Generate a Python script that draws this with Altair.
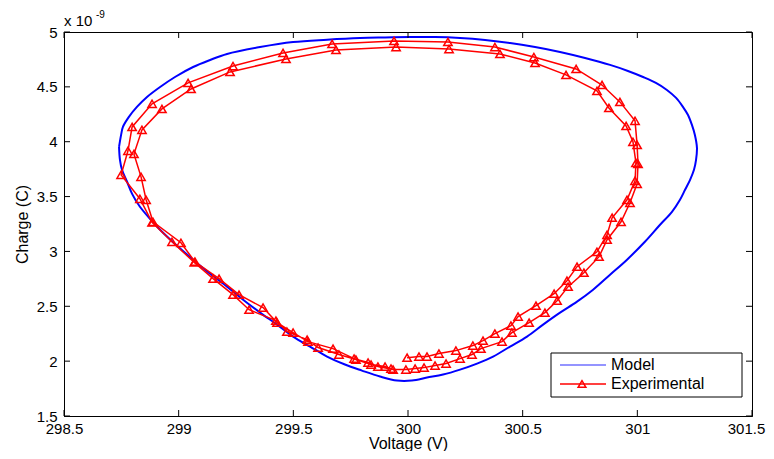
import altair as alt
import pandas as pd

# ---- data ----
model_v = [298.740, 298.749, 298.757, 298.783, 298.818, 298.862, 298.919, 298.984, 299.063, 299.137,
           299.211, 299.355, 299.499, 299.647, 299.791, 299.900, 300.009, 300.118, 300.227, 300.336,
           300.445, 300.554, 300.663, 300.772, 300.881, 300.959, 301.025, 301.081, 301.129, 301.169,
           301.199, 301.221, 301.238, 301.251, 301.260, 301.256, 301.247, 301.230, 301.208, 301.186,
           301.151, 301.099, 301.033, 300.955, 300.881, 300.807, 300.737, 300.663, 300.589, 300.519,
           300.445, 300.371, 300.301, 300.227, 300.153, 300.083, 300.017, 299.952, 299.878, 299.799,
           299.725, 299.647, 299.573, 299.499, 299.429, 299.355, 299.281, 299.211, 299.137, 299.063,
           298.988, 298.919, 298.875, 298.831, 298.797, 298.775, 298.753, 298.744, 298.740]
model_q = [3.953, 4.062, 4.135, 4.226, 4.317, 4.408, 4.499, 4.590, 4.681, 4.745,
           4.800, 4.863, 4.909, 4.930, 4.945, 4.950, 4.954, 4.954, 4.945, 4.927,
           4.900, 4.863, 4.818, 4.763, 4.700, 4.645, 4.590, 4.536, 4.472, 4.399,
           4.317, 4.244, 4.153, 4.062, 3.944, 3.835, 3.744, 3.653, 3.562, 3.471,
           3.361, 3.243, 3.088, 2.925, 2.788, 2.651, 2.542, 2.442, 2.333, 2.224,
           2.133, 2.042, 1.978, 1.923, 1.878, 1.850, 1.823, 1.823, 1.860, 1.914,
           1.969, 2.042, 2.133, 2.224, 2.333, 2.442, 2.560, 2.679, 2.797, 2.925,
           3.061, 3.198, 3.298, 3.407, 3.525, 3.635, 3.744, 3.835, 3.953]

exp_v = [299.996, 300.048, 300.083, 300.135, 300.209, 300.283, 300.327, 300.379, 300.449, 300.480,
         300.558, 300.637, 300.693, 300.737, 300.824, 300.868, 300.890, 300.955, 300.990, 300.994,
         300.981, 300.951, 300.876, 300.824, 300.689, 300.554, 300.401, 300.179, 299.948, 299.686,
         299.468, 299.224, 299.054, 298.927, 298.840, 298.805, 298.836, 298.858, 298.888, 299.010,
         299.071, 299.176, 299.263, 299.368, 299.429, 299.499, 299.564, 299.673, 299.765, 299.826,
         299.869, 299.935, 299.991, 300.031, 300.070, 300.118, 300.166, 300.227, 300.279, 300.318,
         300.410, 300.453, 300.528, 300.597, 300.650, 300.698, 300.767, 300.833, 300.868, 300.929,
         300.968, 300.999, 301.003, 300.999, 300.990, 300.924, 300.846, 300.733, 300.549, 300.379,
         300.174, 299.939, 299.669, 299.455, 299.237, 299.041, 298.884, 298.797, 298.779, 298.749,
         298.831, 298.884, 298.971, 299.068, 299.150, 299.237, 299.307, 299.424, 299.472, 299.560,
         299.608, 299.699, 299.773, 299.839, 299.900, 299.926]
exp_q = [2.032, 2.042, 2.042, 2.069, 2.096, 2.142, 2.187, 2.251, 2.324, 2.406,
         2.506, 2.615, 2.733, 2.861, 2.997, 3.152, 3.307, 3.471, 3.644, 3.807,
         3.999, 4.144, 4.308, 4.463, 4.609, 4.718, 4.800, 4.845, 4.863, 4.836,
         4.754, 4.636, 4.481, 4.299, 4.108, 3.889, 3.680, 3.471, 3.270, 3.079,
         2.906, 2.752, 2.606, 2.488, 2.351, 2.260, 2.178, 2.114, 2.023, 1.987,
         1.951, 1.923, 1.923, 1.932, 1.941, 1.960, 1.978, 2.023, 2.060, 2.114,
         2.178, 2.260, 2.351, 2.442, 2.551, 2.679, 2.806, 2.952, 3.107, 3.270,
         3.443, 3.616, 3.798, 3.971, 4.190, 4.363, 4.517, 4.663, 4.772, 4.863,
         4.909, 4.918, 4.891, 4.809, 4.690, 4.536, 4.345, 4.135, 3.917, 3.698,
         3.480, 3.265, 3.088, 2.900, 2.752, 2.606, 2.469, 2.369, 2.269, 2.196,
         2.124, 2.060, 2.014, 1.969, 1.951, 1.932]

x_ticks = [298.5, 299.0, 299.5, 300.0, 300.5, 301.0, 301.5]
y_ticks = [1.5, 2.0, 2.5, 3.0, 3.5, 4.0, 4.5, 5.0]
series_names = ["Model", "Experimental"]

# ---- layout / style ----
W, H = 688, 384
FONT = "Liberation Sans"
BLUE = "#0000ff"
RED = "#ff0000"

model = pd.DataFrame({"v": model_v, "q": model_q, "i": list(range(len(model_v)))})
exp = pd.DataFrame({"v": exp_v, "q": exp_q, "i": list(range(len(exp_v)))})
xt = pd.DataFrame({"v": x_ticks})
yt = pd.DataFrame({"q": y_ticks})
one = pd.DataFrame({"a": [0]})

xs = alt.Scale(domain=[298.5, 301.5], nice=False, zero=False)
ys = alt.Scale(domain=[1.5, 5.0], nice=False, zero=False)

X = alt.X("v:Q", scale=xs, axis=alt.Axis(
    values=x_ticks, format="~g", title="Voltage (V)",
    ticks=False, grid=False, labelFlush=False, labelOverlap=False, labelPadding=5,
    labelOffset={"condition": {"test": "datum.value >= 301.4", "value": -6}, "value": 0},
    titleY=32.5, titleBaseline="alphabetic"))
Y = alt.Y("q:Q", scale=ys, axis=alt.Axis(values=y_ticks, format="~g", title="Charge (C)",
                                         ticks=False, grid=False, labelFlush=False,
                                         labelOverlap=False, labelPadding=7, titlePadding=6))

model_line = alt.Chart(model).mark_line(color=BLUE, strokeWidth=2,
                                        interpolate="catmull-rom").encode(x=X, y=Y, order="i:Q")
exp_line = alt.Chart(exp).mark_line(color=RED, strokeWidth=1.5).encode(x=X, y=Y, order="i:Q")
exp_pts = alt.Chart(exp).mark_point(shape="triangle-up", filled=False, color=RED,
                                    size=70, strokeWidth=1.5, opacity=1).encode(x=X, y=Y)

tick_b = alt.Chart(xt).mark_rule(color="black").encode(x=X, y=alt.value(H), y2=alt.value(H - 6))
tick_t = alt.Chart(xt).mark_rule(color="black").encode(x=X, y=alt.value(0), y2=alt.value(6))
tick_l = alt.Chart(yt).mark_rule(color="black").encode(y=Y, x=alt.value(0), x2=alt.value(6))
tick_r = alt.Chart(yt).mark_rule(color="black").encode(y=Y, x=alt.value(W), x2=alt.value(W - 6))

# exponent label
exp_txt = alt.Chart(one).mark_text(align="left", baseline="alphabetic", font=FONT, fontSize=15,
                                   color="black").encode(x=alt.value(0), y=alt.value(-6),
                                                         text=alt.value("x 10"))
exp_sup = alt.Chart(one).mark_text(align="left", baseline="alphabetic", font=FONT, fontSize=10,
                                   color="black").encode(x=alt.value(32), y=alt.value(-14),
                                                         text=alt.value("-9"))

# legend
leg_box = alt.Chart(one).mark_rect(fill="white", stroke="black", strokeWidth=1).encode(
    x=alt.value(487), x2=alt.value(678), y=alt.value(321), y2=alt.value(365))
leg_l1 = alt.Chart(one).mark_rule(color="#7070ff", strokeWidth=1.6).encode(
    x=alt.value(496), x2=alt.value(542), y=alt.value(333))
leg_l2 = alt.Chart(one).mark_rule(color=RED, strokeWidth=1.6).encode(
    x=alt.value(496), x2=alt.value(542), y=alt.value(352))
leg_p2 = alt.Chart(one).mark_point(shape="triangle-up", filled=False, color=RED, size=60,
                                   strokeWidth=1.5, opacity=1).encode(x=alt.value(518), y=alt.value(352))
leg_t1 = alt.Chart(one).mark_text(align="left", baseline="middle", font=FONT, fontSize=16,
                                  color="black").encode(x=alt.value(547), y=alt.value(333),
                                                        text=alt.value(series_names[0]))
leg_t2 = alt.Chart(one).mark_text(align="left", baseline="middle", font=FONT, fontSize=16,
                                  color="black").encode(x=alt.value(547), y=alt.value(352),
                                                        text=alt.value(series_names[1]))

chart = alt.layer(
    model_line, exp_line, exp_pts, tick_b, tick_t, tick_l, tick_r,
    exp_txt, exp_sup, leg_box, leg_l1, leg_l2, leg_p2, leg_t1, leg_t2
).properties(
    width=W, height=H,
    autosize=alt.AutoSizeParams(type="none"),
    padding={"left": 56, "top": 24, "right": 14, "bottom": 35},
).configure_view(
    stroke="black", strokeWidth=1
).configure_axis(
    domainColor="black", domainWidth=1, labelColor="black", titleColor="black",
    labelFont=FONT, titleFont=FONT, labelFontSize=15, titleFontSize=16,
    titleFontWeight="normal"
)

chart.save("out.html", embed_options={"renderer": "svg", "actions": False})
